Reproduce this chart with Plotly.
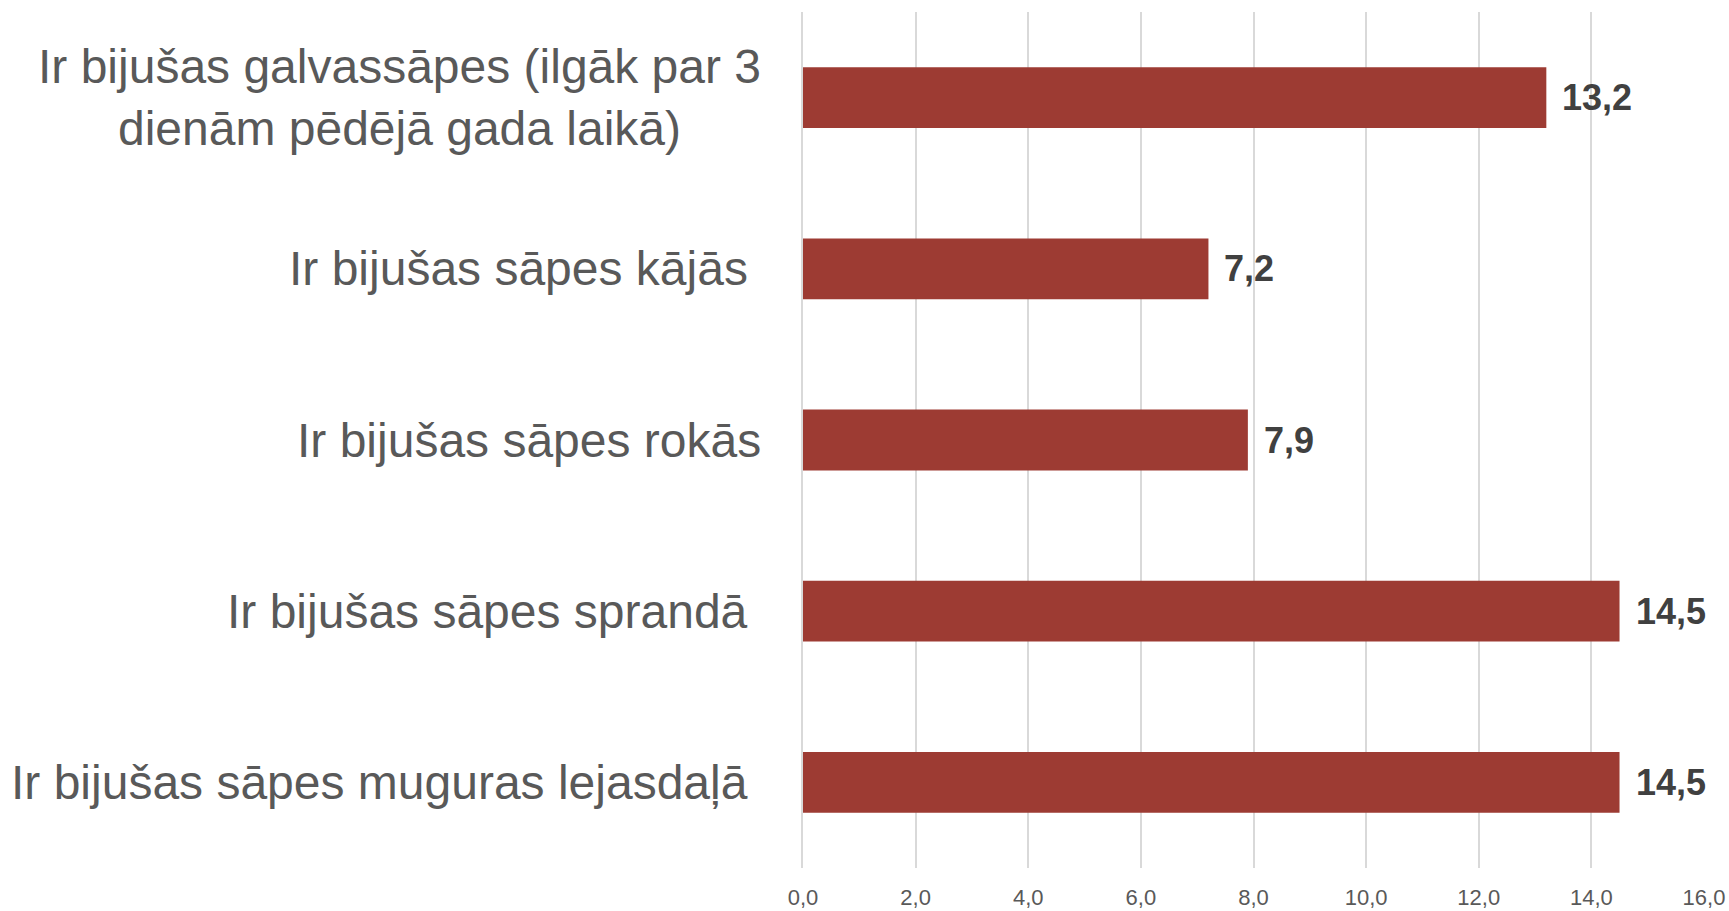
import plotly.graph_objects as go

categories = [
    "Ir bijušas galvassāpes (ilgāk par 3<br>dienām pēdējā gada laikā)",
    "Ir bijušas sāpes kājās\u00a0",
    "Ir bijušas sāpes rokās",
    "Ir bijušas sāpes sprandā\u00a0",
    "Ir bijušas sāpes muguras lejasdaļā\u00a0",
]
values = [13.2, 7.2, 7.9, 14.5, 14.5]
tick_vals = [0, 2, 4, 6, 8, 10, 12, 14, 16]

keys = list(range(len(categories)))

fig = go.Figure()
fig.add_trace(go.Bar(
    y=keys,
    x=values,
    orientation="h",
    marker=dict(color="#9D3B33", line=dict(width=0)),
    hoverinfo="skip",
))

annotations = []
for k, cat in zip(keys, categories):
    annotations.append(dict(
        x=0, xref="paper", y=k, yref="y",
        text=cat, showarrow=False,
        xanchor="right", yanchor="middle", align="center",
        xshift=-40,
        font=dict(family="Liberation Sans, Arial, sans-serif", size=48, color="#595959"),
    ))
for k, v in zip(keys, values):
    annotations.append(dict(
        x=v, xref="x", y=k, yref="y",
        text=f"{v:.1f}".replace(".", ","), showarrow=False,
        xanchor="left", yanchor="middle",
        xshift=14,
        font=dict(family="Liberation Sans, Arial, sans-serif", size=36, color="#404040", weight="bold"),
    ))

fig.update_layout(
    width=1729, height=911,
    margin=dict(l=803, r=25, t=12, b=43, autoexpand=False),
    paper_bgcolor="white", plot_bgcolor="white",
    separators=",.",
    bargap=0.645,
    showlegend=False,
    annotations=annotations,
    xaxis=dict(
        range=[0, 16],
        tickvals=tick_vals,
        tickformat=".1f",
        showgrid=True, gridcolor="#d9d9d9", gridwidth=1.5,
        zeroline=False, showline=False,
        ticks="",
        automargin=False,
        ticklabelstandoff=14,
        tickfont=dict(family="Liberation Sans, Arial, sans-serif", size=22, color="#595959"),
    ),
    yaxis=dict(
        autorange="reversed",
        showticklabels=False,
        automargin=False,
        showgrid=False, zeroline=False,
        showline=True, linecolor="#d9d9d9", linewidth=1.5,
        range=[4.5, -0.5],
    ),
)

# remove the default 8px page margin so the figure fills the window exactly
fig.write_html(
    "out.html",
    config={"displayModeBar": False},
    post_script="document.body.style.margin='0';document.body.style.overflow='hidden';",
)
